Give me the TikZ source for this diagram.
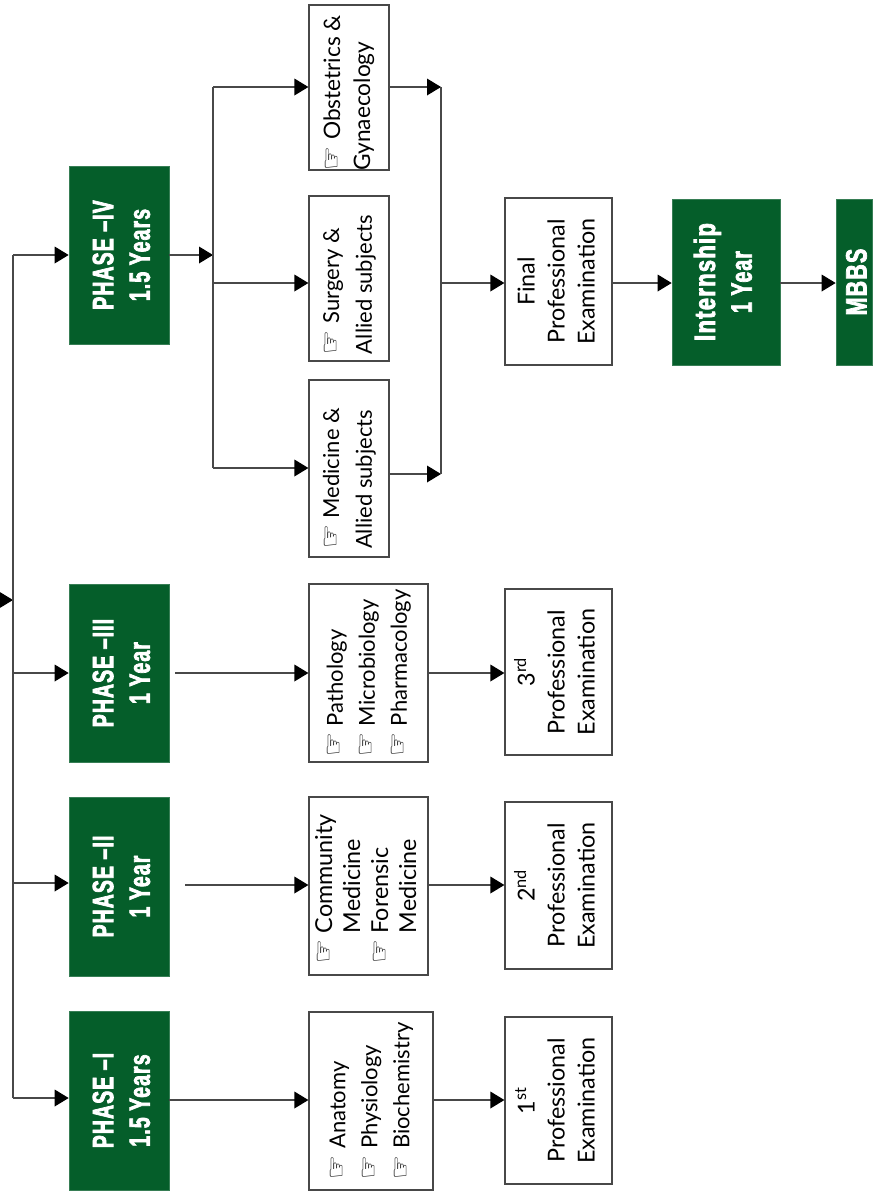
\documentclass[tikz,border=0pt]{standalone}
\usepackage{fontspec}
\usetikzlibrary{arrows.meta,calc}
\setmainfont{Lato}
\newfontfamily\djvfont{DejaVu Sans}
\newfontfamily\hvyfont[FakeStretch=0.66,FakeBold=2.5,LetterSpace=4]{Liberation Sans Bold}
\newcommand{\hnd}{\smash{{\djvfont\fontsize{20pt}{20pt}\selectfont ☞}}}
\newcommand{\rottext}[1]{\rotatebox{90}{#1}}
\newcommand{\fs}[2]{\fontsize{#1pt}{#2pt}\selectfont}
\newcommand{\phs}[2]{\begin{tabular}{@{}c@{}}\rule{0pt}{27pt}#1\\#2\end{tabular}}
\newlength{\px}\setlength{\px}{0.75pt}
\tikzset{
  x=0.75pt,y=-0.75pt,
  phasebox/.style={fill=phasegreen,draw=phasegreen!80!white,line width=0.5pt,text=white,inner sep=0pt,font=\hvyfont\fontsize{22pt}{27.5pt}\selectfont},
  subjbox/.style={fill=white,draw=linegray,line width=0.9pt,inner sep=0pt,font=\fs{16.5}{24}},
  conn/.style={draw=linegray,line width=1pt},
  arr/.style={conn,-{Triangle[length=10.5pt,width=12.5pt,color=black]}},
}
\definecolor{phasegreen}{HTML}{055E2A}
\definecolor{linegray}{HTML}{484848}
\newcommand{\bx}[7]{% style,name,x1,y1,x2,y2,text
  \node[#1,minimum width=#5*\px-#3*\px,minimum height=#6*\px-#4*\px] (#2) at ({(#3+#5)/2},{(#4+#6)/2}) {\rottext{#7}};}
\begin{document}
\begin{tikzpicture}
\useasboundingbox (0,0) rectangle (872,1192);
% phases
\bx{phasebox}{p1}{69}{1011}{169}{1190}{\phs{PHASE –I}{1.5 Years}}
\bx{phasebox}{p2}{69}{797}{169}{976}{\phs{PHASE –II}{1 Year}}
\bx{phasebox}{p3}{69}{584}{169}{762}{\phs{PHASE –III}{1 Year}}
\bx{phasebox}{p4}{69}{166}{169}{344}{\phs{PHASE –IV}{1.5 Years}}
\bx{phasebox}{intern}{672}{199}{780}{365}{\begin{tabular}{@{}c@{}}\scalebox{1.13}[1]{Internship}\\1 Year\end{tabular}}
\bx{phasebox}{mbbs}{836}{199}{872}{365}{\rule{0pt}{19pt}\scalebox{1.1}[1]{MBBS}}
% subjects
\bx{subjbox}{s1}{309}{1012}{433}{1190}{\begin{tabular}{@{}l@{\hspace{5pt}}l@{}}\hnd&Anatomy\\\hnd&Physiology\\\hnd&Biochemistry\end{tabular}}
\bx{subjbox,font=\fs{17.5}{21}}{s2}{309}{797}{428}{975}{\begin{tabular}{@{}l@{\hspace{5pt}}l@{}}\hnd&Community\\&Medicine\\\hnd&Forensic\\&Medicine\end{tabular}\hspace{4.5pt}}
\bx{subjbox}{s3}{309}{584}{428}{762}{\begin{tabular}{@{}l@{\hspace{5pt}}l@{}}\hnd&Pathology\\\hnd&Microbiology\\\hnd&Pharmacology\end{tabular}}
\bx{subjbox,font=\fs{17}{22.5}}{obst}{309}{5}{389}{170}{\makebox[100pt][c]{\begin{tabular}{@{}l@{\hspace{5pt}}l@{}}\hnd&Obstetrics \&\\\multicolumn{2}{@{}l@{}}{Gynaecology}\end{tabular}\hspace{8pt}}}
\bx{subjbox,font=\fs{16.5}{24.5}}{surg}{309}{196}{389}{361}{\begin{tabular}{@{}l@{\hspace{5pt}}l@{}}\hnd&Surgery \&\\\multicolumn{2}{@{}l@{}}{Allied subjects}\end{tabular}\hspace{9pt}}
\bx{subjbox,font=\fs{16.5}{24.5}}{med}{309}{380}{389}{557}{\begin{tabular}{@{}l@{\hspace{5pt}}l@{}}\hnd&Medicine \&\\\multicolumn{2}{@{}l@{}}{Allied subjects}\end{tabular}\hspace{15pt}}
% exams
\bx{subjbox,font=\fs{17.5}{22.5}}{e1}{505}{1017}{612}{1184}{\begin{tabular}{@{}c@{}}1\textsuperscript{st}\\Professional\\Examination\end{tabular}}
\bx{subjbox,font=\fs{17.5}{22.5}}{e2}{505}{802}{612}{969}{\begin{tabular}{@{}c@{}}2\textsuperscript{nd}\\Professional\\Examination\end{tabular}}
\bx{subjbox,font=\fs{17.5}{22.5}}{e3}{505}{589}{612}{755}{\begin{tabular}{@{}c@{}}3\textsuperscript{rd}\\Professional\\Examination\end{tabular}}
\bx{subjbox,font=\fs{17.5}{22.5}}{final}{505}{198}{612}{365}{\begin{tabular}{@{}c@{}}Final\\Professional\\Examination\end{tabular}}
% coordinates
\coordinate (bustop) at (13,255);
\coordinate (busbot) at (13,1098);
\coordinate (entry) at (0,600);
\coordinate (ebus) at (13,600);
\coordinate (b3) at (13,673);
\coordinate (b2) at (13,883);
\coordinate (p2out) at (185,885);
\coordinate (p3out) at (175,673);
\coordinate (lt) at (213,87);
\coordinate (lm) at (213,283);
\coordinate (lb) at (213,468);
\coordinate (lj) at (213,255);
\coordinate (rt) at (441,87);
\coordinate (rm) at (441,283);
\coordinate (rb) at (441,474);
% connectors
\draw[arr] (entry) -- (ebus);
\draw[conn] (bustop) -- (busbot);
\draw[arr] (busbot) -- (busbot -| p1.west);
\draw[arr] (b2) -- (b2 -| p2.west);
\draw[arr] (b3) -- (b3 -| p3.west);
\draw[arr] (bustop) -- (bustop -| p4.west);
\draw[arr] (p1.east |- 0,1100) -- (s1.west |- 0,1100);
\draw[arr] (s1.east |- 0,1100) -- (e1.west |- 0,1100);
\draw[arr] (p2out) -- (p2out -| s2.west);
\draw[arr] (s2.east |- p2out) -- (e2.west |- p2out);
\draw[arr] (p3out) -- (p3out -| s3.west);
\draw[arr] (s3.east |- p3out) -- (e3.west |- p3out);
\draw[arr] (p4.east |- lj) -- (lj);
\draw[conn] (lt) -- (lb);
\draw[arr] (lt) -- (lt -| obst.west);
\draw[arr] (lm) -- (lm -| surg.west);
\draw[arr] (lb) -- (lb -| med.west);
\draw[arr] (obst.east |- rt) -- (rt);
\draw[arr] (med.east |- rb) -- (rb);
\draw[conn] (rt) -- (rb);
\draw[arr] (rm) -- (rm -| final.west);
\draw[arr] (final.east |- rm) -- (rm -| intern.west);
\draw[arr] (intern.east |- rm) -- (rm -| mbbs.west);
\end{tikzpicture}
\end{document}
